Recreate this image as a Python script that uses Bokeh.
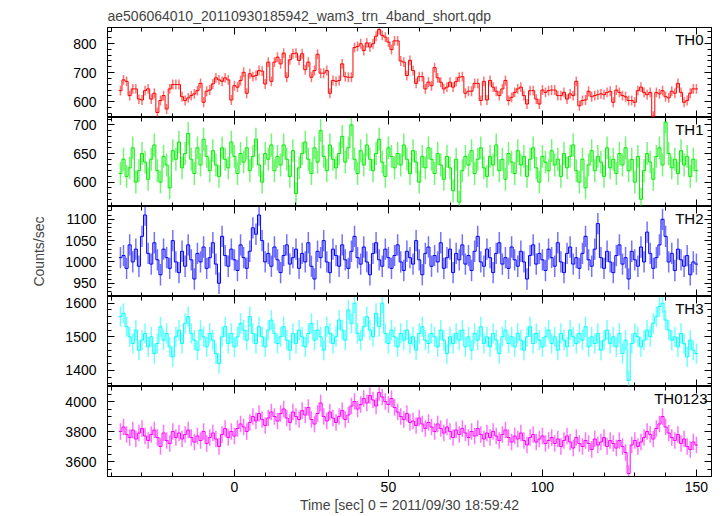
import numpy as np
from bokeh.plotting import figure
from bokeh.layouts import column
from bokeh.models import Range1d, LinearAxis, FixedTicker, Label, ColumnDataSource
from bokeh.embed import file_html
from bokeh.resources import INLINE

# ---------------- data (1 s bins, first bin centre at t = -37 s) ----------------
t_first = -37.0
t_bin = 1.0

th0 = [638, 675, 670, 621, 644, 644, 609, 606, 638, 644,
       609, 629, 563, 604, 621, 575, 644, 659, 659, 659,
       617, 604, 613, 621, 627, 638, 663, 598, 636, 640,
       661, 682, 675, 670, 682, 675, 606, 655, 650, 673,
       701, 629, 696, 686, 690, 707, 705, 661, 736, 670,
       736, 753, 730, 767, 684, 744, 765, 767, 742, 765,
       710, 736, 684, 707, 763, 698, 698, 707, 629, 673,
       670, 673, 730, 686, 684, 684, 786, 790, 799, 776,
       802, 788, 799, 825, 848, 828, 822, 805, 779, 809,
       809, 740, 736, 690, 742, 707, 663, 686, 686, 644,
       667, 655, 717, 682, 667, 644, 650, 667, 650, 669,
       684, 686, 629, 636, 636, 663, 663, 604, 670, 606,
       673, 650, 636, 621, 644, 673, 604, 615, 632, 644,
       650, 621, 592, 638, 638, 609, 592, 640, 632, 638,
       640, 640, 621, 621, 632, 609, 627, 621, 670, 586,
       604, 606, 636, 617, 621, 624, 627, 624, 632, 636,
       598, 640, 632, 621, 617, 604, 604, 598, 638, 650,
       632, 624, 632, 550, 632, 627, 638, 617, 613, 636,
       629, 663, 632, 598, 604, 629, 644, 644]

th1 = [615, 640, 610, 625, 660, 600, 620, 650, 635, 605,
       640, 665, 620, 600, 645, 630, 590, 655, 640, 670,
       625, 650, 685, 640, 615, 660, 630, 675, 645, 620,
       655, 630, 610, 660, 640, 625, 670, 645, 615, 650,
       635, 660, 620, 645, 675, 630, 600, 650, 640, 665,
       620, 645, 630, 665, 640, 610, 655, 580, 625, 650,
       670, 640, 615, 660, 635, 690, 645, 620, 665, 640,
       625, 650, 680, 635, 660, 700, 640, 615, 655, 630,
       665, 640, 620, 650, 675, 635, 610, 660, 645, 625,
       650, 630, 665, 640, 615, 655, 635, 600, 645, 625,
       660, 640, 615, 650, 630, 605, 645, 625, 585, 640,
       565, 620, 645, 630, 655, 615, 640, 660, 625, 610,
       645, 630, 665, 620, 640, 605, 650, 635, 615, 655,
       630, 645, 610, 640, 660, 625, 600, 645, 635, 620,
       655, 630, 640, 610, 650, 625, 645, 665, 620, 600,
       640, 590, 630, 655, 620, 645, 635, 610, 660, 625,
       640, 615, 650, 630, 660, 620, 640, 600, 645, 570,
       620, 650, 635, 605, 645, 660, 630, 705, 650, 625,
       640, 615, 655, 630, 645, 610, 640, 620]

th2 = [1010, 1015, 985, 1040, 1000, 1030, 990, 1060, 1110, 1020,
       995, 1045, 1005, 970, 1030, 1010, 985, 1050, 1000, 975,
       1025, 990, 1040, 1005, 960, 1020, 1000, 1035, 985, 1010,
       1045, 995, 950, 1060, 1015, 990, 1030, 1005, 980, 1040,
       1010, 985, 1025, 1080, 1065, 1110, 1050, 1000, 1020, 990,
       1035, 1005, 975, 1015, 1040, 995, 1010, 1030, 985, 1020,
       1000, 1045, 990, 960, 1025, 1010, 1050, 1000, 975, 1030,
       1015, 990, 1040, 1005, 985, 1025, 1060, 1010, 995, 1035,
       1000, 970, 1020, 1045, 1005, 990, 1030, 1010, 985, 1015,
       1040, 1000, 980, 1025, 1010, 995, 1050, 1005, 970, 1020,
       1035, 990, 1015, 1000, 1045, 985, 1010, 1030, 975, 1020,
       1005, 1040, 995, 1015, 980, 1025, 1060, 1000, 990, 1030,
       1010, 975, 1020, 1045, 995, 1010, 985, 1035, 1005, 990,
       1025, 1000, 960, 1015, 1040, 995, 1020, 1005, 980, 1030,
       1010, 990, 1045, 1000, 975, 1020, 1035, 995, 1010, 985,
       1020, 1060, 1005, 990, 1030, 1090, 1010, 985, 1025, 1000,
       975, 1015, 1040, 995, 1010, 960, 1025, 1005, 990, 1035,
       1000, 1070, 1020, 985, 1010, 1040, 1100, 1060, 1000, 1020,
       980, 1030, 1005, 990, 1015, 970, 1000, 995]

th3 = [1560, 1570, 1530, 1500, 1480, 1520, 1460, 1490, 1510, 1470,
       1500, 1450, 1480, 1530, 1490, 1510, 1470, 1440, 1500, 1520,
       1480, 1540, 1560, 1510, 1490, 1460, 1520, 1500, 1470, 1510,
       1490, 1450, 1420, 1500, 1530, 1480, 1510, 1470, 1500, 1540,
       1520, 1490, 1560, 1510, 1480, 1530, 1500, 1470, 1520, 1550,
       1510, 1480, 1500, 1530, 1490, 1460, 1510, 1480, 1520, 1500,
       1470, 1510, 1540, 1490, 1520, 1500, 1460, 1530, 1510, 1480,
       1500, 1550, 1520, 1490, 1580, 1540, 1600, 1510, 1490, 1530,
       1560, 1520, 1500, 1570, 1530, 1600, 1510, 1480, 1520, 1500,
       1470, 1510, 1490, 1520, 1480, 1500, 1460, 1510, 1530, 1490,
       1480, 1510, 1500, 1470, 1520, 1490, 1450, 1500, 1480, 1510,
       1490, 1520, 1470, 1500, 1460, 1510, 1490, 1530, 1480, 1500,
       1470, 1510, 1490, 1450, 1500, 1520, 1480, 1500, 1470, 1510,
       1490, 1460, 1500, 1530, 1480, 1510, 1490, 1470, 1500, 1520,
       1480, 1500, 1460, 1510, 1490, 1470, 1520, 1500, 1480, 1510,
       1490, 1530, 1470, 1500, 1480, 1510, 1460, 1490, 1520, 1480,
       1500, 1470, 1510, 1450, 1490, 1370, 1480, 1510, 1500, 1470,
       1490, 1520, 1500, 1540, 1560, 1590, 1600, 1550, 1520, 1490,
       1500, 1470, 1510, 1480, 1440, 1490, 1460, 1450]

th0123 = [3800, 3830, 3780, 3760, 3810, 3750, 3790, 3820, 3770, 3740,
          3780, 3810, 3760, 3700, 3790, 3740, 3720, 3800, 3760, 3790,
          3750, 3780, 3810, 3760, 3730, 3770, 3740, 3800, 3720, 3760,
          3790, 3750, 3700, 3780, 3820, 3760, 3800, 3770, 3820, 3850,
          3830, 3800, 3860, 3900, 3870, 3920, 3880, 3840, 3890, 3930,
          3900, 3870, 3920, 3950, 3890, 3860, 3930, 3900, 3880, 3940,
          3910, 3960, 3880, 3850, 3920, 3990, 3900, 3870, 3930, 3890,
          3860, 3900, 3940, 3880, 3910, 3970, 4000, 3950, 3980, 4020,
          3990, 4040, 4010, 3970, 4060, 4030, 4000, 3980, 4020, 3960,
          3930, 3900, 3880, 3920, 3860, 3870, 3840, 3890, 3850, 3820,
          3860, 3830, 3800, 3850, 3820, 3790, 3830, 3800, 3760, 3810,
          3780, 3820, 3790, 3760, 3800, 3770, 3820, 3780, 3750, 3790,
          3760, 3800, 3770, 3740, 3780, 3810, 3760, 3730, 3770, 3750,
          3790, 3740, 3710, 3760, 3780, 3730, 3750, 3770, 3720, 3740,
          3760, 3720, 3750, 3700, 3740, 3770, 3730, 3690, 3760, 3720,
          3700, 3740, 3720, 3680, 3750, 3710, 3730, 3760, 3700, 3740,
          3720, 3690, 3740, 3700, 3660, 3520, 3710, 3740, 3700, 3730,
          3760, 3800, 3780, 3750, 3820, 3850, 3900, 3830, 3790, 3760,
          3740, 3780, 3720, 3750, 3700, 3680, 3730, 3710]

# one-sigma error of each panel (counts/sec)
errors = [17, 20, 25, 30, 55]
names = ["TH0", "TH1", "TH2", "TH3", "TH0123"]
series = [th0, th1, th2, th3, th0123]
colors = ["#ff0000", "#00ee00", "#0000ff", "#00ffff", "#ff00ff"]
y_limits = [(545.7, 855.0), (557.4, 713.0), (919.0, 1130.0), (1352.0, 1620.0), (3500.0, 4100.0)]
y_major = [[600, 700, 800], [600, 650, 700], [950, 1000, 1050, 1100],
           [1400, 1500, 1600], [3600, 3800, 4000]]
y_minor_step = [20, 10, 10, 20, 50]

x_limits = (-41.2, 154.9)
x_major = [-50, 0, 50, 100, 150]
x_minor = list(range(-50, 160, 10))

title_text = "ae506064010_20110930185942_wam3_trn_4band_short.qdp"
x_label = "Time [sec] 0 = 2011/09/30 18:59:42"
y_label = "Counts/sec"

FONT = "Liberation Sans"
W = 720
heights = [117, 89, 90, 90, 129]
tops = [27, 0, 0, 0, 0]
bottoms = [0, 0, 0, 0, 39]
label_dx = [-8, -8, -8, -8, -4]


def make_axis(ticks, minors, labels, label_standoff=11):
    ax = LinearAxis(ticker=FixedTicker(ticks=ticks, minor_ticks=minors))
    ax.axis_line_color = "black"
    ax.axis_line_width = 1
    ax.major_tick_line_color = "black"
    ax.minor_tick_line_color = "black"
    ax.major_tick_in = 7
    ax.major_tick_out = 0
    ax.minor_tick_in = 4
    ax.minor_tick_out = 0
    ax.major_label_text_font = FONT
    if labels:
        ax.major_label_text_color = "black"
        ax.major_label_text_font_size = "14px"
        ax.major_label_standoff = label_standoff
    else:
        ax.major_label_text_color = None
        ax.major_label_text_font_size = "1px"
        ax.major_label_standoff = 0
    return ax


x_range = Range1d(*x_limits)
figs = []
n = len(series)
for i in range(n):
    vals = np.asarray(series[i], dtype=float)
    tc = t_first + t_bin * np.arange(len(vals))
    lo, hi = y_limits[i]
    p = figure(width=W, height=heights[i], x_range=x_range, y_range=Range1d(lo, hi),
               output_backend="svg", toolbar_location=None,
               x_axis_location=None, y_axis_location=None,
               min_border_left=107, min_border_right=W - 711,
               min_border_top=tops[i], min_border_bottom=bottoms[i])
    p.grid.visible = False
    p.outline_line_color = "black"
    p.background_fill_color = "white"
    p.border_fill_color = "white"

    step = y_minor_step[i]
    ymin = list(np.arange(lo - lo % step, hi + step, step))
    left = make_axis(y_major[i], ymin, True)
    right = make_axis(y_major[i], ymin, False)
    if i == 2:
        left.axis_label = y_label
        left.axis_label_text_font = FONT
        left.axis_label_text_font_size = "14px"
        left.axis_label_text_font_style = "normal"
        left.axis_label_standoff = 15
    p.add_layout(left, "left")
    p.add_layout(right, "right")
    top_ax = make_axis(x_major, x_minor, False)
    p.add_layout(top_ax, "above")
    bot_ax = make_axis(x_major, x_minor, i == n - 1, label_standoff=5)
    if i == n - 1:
        bot_ax.axis_label = x_label
        bot_ax.axis_label_text_font = FONT
        bot_ax.axis_label_text_font_size = "14px"
        bot_ax.axis_label_text_font_style = "normal"
        bot_ax.axis_label_standoff = 2
    p.add_layout(bot_ax, "below")

    err = errors[i]
    src = ColumnDataSource(dict(t=tc, v=vals, lo=vals - err, hi=vals + err))
    p.segment(x0="t", y0="lo", x1="t", y1="hi", source=src,
              line_color=colors[i], line_alpha=0.55, line_width=1.5)
    edges = np.append(tc - t_bin / 2, tc[-1] + t_bin / 2)
    steps = np.append(vals, vals[-1])
    p.step(x=edges, y=steps, mode="after", line_color=colors[i], line_width=1.0)

    p.add_layout(Label(x=x_limits[1], y=hi, x_offset=label_dx[i], y_offset=-3,
                       text=names[i], text_align="right", text_baseline="top",
                       text_font=FONT, text_font_size="15px", text_color="black"))
    if i == 0:
        p.title.text = title_text
        p.title.align = "left"
        p.title.text_font = FONT
        p.title.text_font_size = "14px"
        p.title.text_font_style = "normal"
        p.title.standoff = 7
        p.title.offset = 0
    figs.append(p)

layout = column(*figs, spacing=0)
open("out.html", "w").write(file_html(layout, INLINE))
